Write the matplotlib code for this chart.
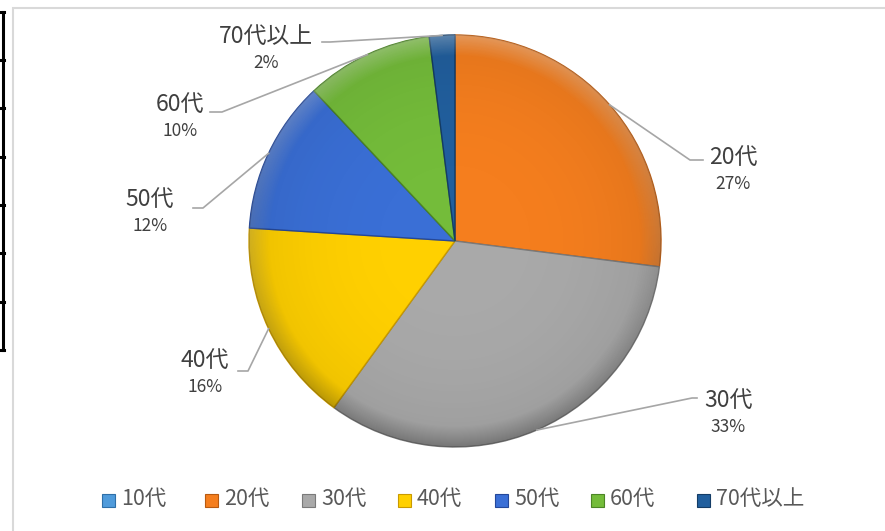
import numpy as np
import matplotlib.pyplot as plt
from matplotlib.patches import Rectangle

plt.rcParams['font.family'] = ['Noto Sans CJK JP', 'DejaVu Sans']

# age groups and their share (%)
groups = ["10代", "20代", "30代", "40代", "50代", "60代", "70代以上"]
shares = [0, 27, 33, 16, 12, 10, 2]
colors = ["#4F9BDB", "#F57E1E", "#A9A9A9", "#FFD000", "#3A6FD6", "#74BC3A", "#215F9E"]
edges = ["#2E6FA8", "#B85A10", "#7A7A7A", "#C99A00", "#24489A", "#4C8526", "#143C66"]

W, H = 885, 531
fig = plt.figure(figsize=(W / 100, H / 100), dpi=100)
ax = fig.add_axes([0, 0, 1, 1])


def Y(y):
    return H - y


cx, cy, r = 455, Y(241), 206
wedges, _ = ax.pie(shares, colors=colors, startangle=90, counterclock=False,
                   center=(cx, cy), radius=r, frame=True,
                   wedgeprops=dict(linewidth=1.0))
for w, ec in zip(wedges, edges):
    w.set_edgecolor(ec)

# bevel-like shading over the pie
n = 400
xs = np.linspace(-1, 1, n)
gx, gy = np.meshgrid(xs, xs)
rr = np.sqrt(gx ** 2 + gy ** 2)
ring = np.clip((rr - 0.90) / 0.10, 0, 1)
shade = np.zeros((n, n, 4))
shade[..., :3] = 1.0
shade[..., 3] = 0.30 * ring * np.clip(gy * 0.5 + 0.5, 0, 1)
dark = np.zeros((n, n, 4))
dark[..., 3] = 0.22 * ring * np.clip(-gy * 0.5 + 0.5, 0, 1) + 0.08 * rr ** 3
circ = plt.Circle((cx, cy), r, transform=ax.transData)
for img in (shade, dark):
    im = ax.imshow(img, extent=(cx - r, cx + r, cy - r, cy + r), origin="lower", zorder=3)
    im.set_clip_path(circ)

ax.set_xlim(0, W)
ax.set_ylim(0, H)
ax.set_aspect("equal")
ax.axis("off")

# chart frame
ax.add_patch(Rectangle((13, Y(560)), 900, 552, fill=False, ec="#D9D9D9", lw=1.5))
# table edge at the left
ax.plot([3, 3], [Y(12), Y(350)], color="black", lw=2.2)
for yy in [12, 60, 108, 157, 205, 253, 302, 350]:
    ax.plot([0, 4], [Y(yy), Y(yy)], color="black", lw=2.2)

# data labels with leader lines (elbow point, then short horizontal tail)
label_pos = {
    "20代": (733, 170),
    "30代": (728, 413),
    "40代": (205, 373),
    "50代": (150, 212),
    "60代": (180, 117),
    "70代以上": (266, 49),
}
line_end = {
    "20代": (690, 160, 703),
    "30代": (692, 398, 697),
    "40代": (248, 371, 238),
    "50代": (203, 208, 193),
    "60代": (222, 112, 210),
    "70代以上": (330, 42, 322),
}
for w, g, s in zip(wedges, groups, shares):
    if s == 0:
        continue
    ang = np.deg2rad((w.theta1 + w.theta2) / 2)
    sx, sy = cx + r * np.cos(ang), cy + r * np.sin(ang)
    ex, ey, tx = line_end[g]
    ax.plot([sx, ex, tx], [sy, Y(ey), Y(ey)], color="#A6A6A6", lw=1.2, zorder=4)
    lx, ly = label_pos[g]
    ax.text(lx, Y(ly) + 13, g, ha="center", va="center", fontsize=16.5, color="#404040", zorder=5)
    ax.text(lx, Y(ly) - 14, f"{s}%", ha="center", va="center", fontsize=12.5, color="#404040", zorder=5)

# legend
leg_x = [102, 205, 302, 398, 495, 591, 697]
for xx, g, c, ec in zip(leg_x, groups, colors, edges):
    ax.add_patch(Rectangle((xx, Y(507)), 13, 13, fc=c, ec=ec, lw=0.8))
    ax.text(xx + 19, Y(499), g, ha="left", va="center", fontsize=15.5, color="#595959")

fig.savefig("out.png", dpi=100)
